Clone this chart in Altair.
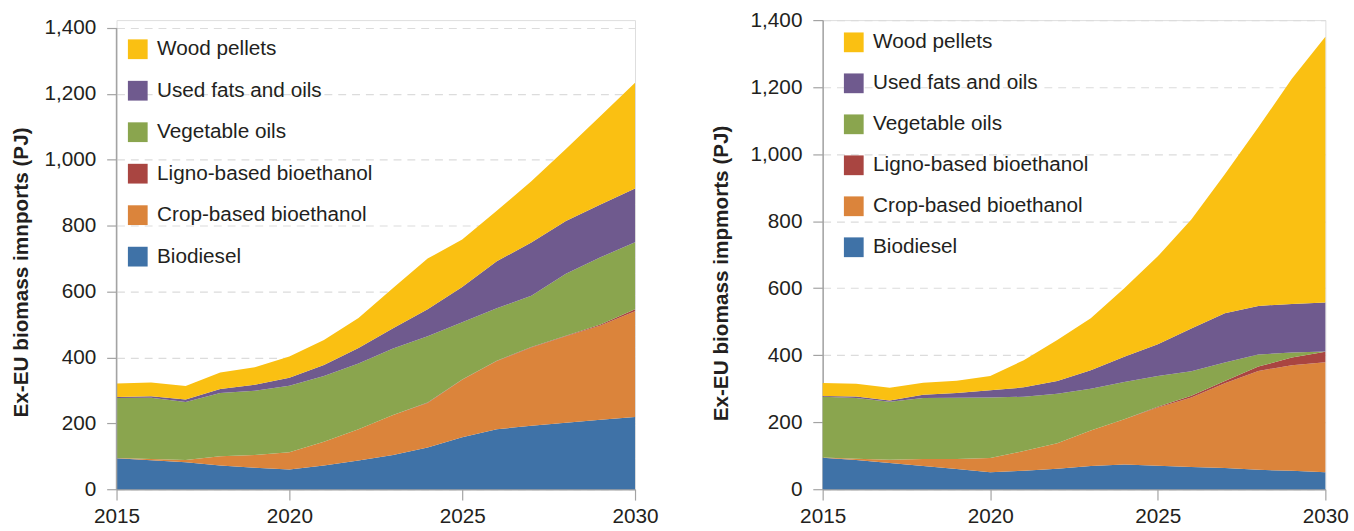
import altair as alt
import pandas as pd

years = list(range(2015, 2031))

series = [
    "Wood pellets",
    "Used fats and oils",
    "Vegetable oils",
    "Ligno-based bioethanol",
    "Crop-based bioethanol",
    "Biodiesel",
]
colors = ["#FAC012", "#6F5A8E", "#8AA54E", "#A94541", "#DB843B", "#3F72A7"]

# Scenario A (left panel), PJ per year
biodiesel_a = [94, 88, 82, 72, 65, 60, 72, 87, 104, 127, 158, 182, 193, 202, 211, 219]
crop_a = [1, 4, 7, 28, 39, 52, 72, 95, 121, 135, 174, 207, 237, 262, 286, 321]
ligno_a = [0, 0, 0, 0, 0, 0, 0, 0, 0, 1, 1, 1, 2, 2, 3, 6]
veg_a = [182, 186, 176, 192, 195, 202, 200, 200, 202, 201, 174, 159, 155, 188, 204, 204]
used_a = [3, 4, 7, 12, 18, 24, 33, 47, 62, 82, 107, 143, 162, 160, 160, 163]
wood_a = [41, 42, 41, 50, 53, 65, 76, 91, 122, 154, 144, 153, 186, 219, 269, 321]

# Scenario B (right panel), PJ per year
biodiesel_b = [94, 87, 78, 69, 60, 51, 55, 61, 69, 74, 70, 66, 63, 58, 55, 51]
crop_b = [1, 4, 10, 21, 30, 42, 59, 76, 106, 135, 174, 208, 253, 295, 315, 328]
ligno_b = [0, 0, 0, 0, 0, 0, 0, 0, 0, 0, 2, 5, 7, 13, 23, 31]
veg_b = [181, 181, 173, 182, 183, 181, 162, 148, 125, 111, 92, 73, 55, 36, 15, 1]
used_b = [2, 5, 4, 10, 14, 21, 28, 38, 55, 75, 95, 128, 147, 145, 145, 146]
wood_b = [39, 38, 38, 36, 37, 43, 81, 122, 155, 205, 262, 325, 415, 533, 672, 793]

y_ticks = [0, 200, 400, 600, 800, 1000, 1200, 1400]
x_ticks = [2015, 2020, 2025, 2030]

FONT = "Liberation Sans"
TEXT = "#231F20"
AXIS = "#A3A3A3"


def frame(values_by_series):
    rows = []
    for order, name in enumerate(reversed(series)):
        vals = values_by_series[name]
        for yr, v in zip(years, vals):
            rows.append({"year": yr, "series": name, "value": v, "ord": order})
    return pd.DataFrame(rows)


df_a = frame({
    "Wood pellets": wood_a,
    "Used fats and oils": used_a,
    "Vegetable oils": veg_a,
    "Ligno-based bioethanol": ligno_a,
    "Crop-based bioethanol": crop_a,
    "Biodiesel": biodiesel_a,
})
df_b = frame({
    "Wood pellets": wood_b,
    "Used fats and oils": used_b,
    "Vegetable oils": veg_b,
    "Ligno-based bioethanol": ligno_b,
    "Crop-based bioethanol": crop_b,
    "Biodiesel": biodiesel_b,
})


def panel(df, title, width, height, ymax, show_domain, title_x, title_y,
          leg_x, leg_y, row_pad):
    x = alt.X(
        "year:Q",
        scale=alt.Scale(domain=[2015, 2030], nice=False, zero=False),
        axis=alt.Axis(
            values=x_ticks, format="d", title=None, grid=False,
            domainColor=AXIS, domainWidth=1.5, tickColor=AXIS, tickSize=11,
            tickWidth=1.2, labelFont=FONT, labelFontSize=21, labelColor=TEXT,
            labelPadding=6, labelFlush=False,
        ),
    )
    y = alt.Y(
        "value:Q",
        stack="zero",
        scale=alt.Scale(domain=[0, ymax], nice=False),
        axis=alt.Axis(
            values=y_ticks, format=",d", title=title, domain=show_domain,
            domainColor=AXIS, domainWidth=1.5, tickColor=AXIS, tickSize=10,
            tickWidth=1.2, labelFont=FONT, labelFontSize=21, labelColor=TEXT,
            labelPadding=11, grid=True, gridColor="#DCDCDC", gridDash=[8, 6],
            gridWidth=1.2, titleFont=FONT, titleFontSize=21,
            titleFontWeight="bold", titleColor=TEXT, titleAngle=270,
            titleAlign="center", titleBaseline="middle", titleX=title_x,
            titleY=title_y,
        ),
    )
    color = alt.Color(
        "series:N",
        scale=alt.Scale(domain=series, range=colors),
        legend=alt.Legend(
            title=None, orient="none", legendX=leg_x, legendY=leg_y,
            symbolType="square", symbolSize=400, symbolStrokeWidth=0,
            symbolOpacity=1, labelFont=FONT, labelFontSize=21,
            labelColor=TEXT, labelOffset=9, labelLimit=400,
            rowPadding=row_pad, padding=0,
        ),
    )
    area = alt.Chart(df).mark_area(interpolate="linear", opacity=1).encode(
        x=x, y=y, color=color, order=alt.Order("ord:Q", sort="ascending"),
    )
    layers = [area]
    if not show_domain:
        axis_line = alt.Chart(pd.DataFrame({"x": [2015], "y0": [0], "y1": [1400]})).mark_rule(
            color=AXIS, strokeWidth=1.5
        ).encode(x="x:Q", y="y0:Q", y2="y1:Q")
        layers.append(axis_line)
    return alt.layer(*layers).properties(width=width, height=height)


left = panel(df_a, "Ex-EU biomass imnports (PJ)", 525, 475, 1400 * 475 / 467,
             False, -96, 255, 11, 19, 20)
right = panel(df_b, "Ex-EU biomass impmorts (PJ)", 509, 475, 1400,
              True, -102, 256, 21, 12, 19.5)

chart = (
    alt.hconcat(left, right, spacing=52)
    .resolve_scale(color="independent")
    .properties(padding={"left": 10, "top": 5, "right": 5, "bottom": 5})
    .configure_view(stroke=None)
    .configure(background="white")
)

chart.save("out.html", embed_options={"renderer": "svg", "actions": False})
